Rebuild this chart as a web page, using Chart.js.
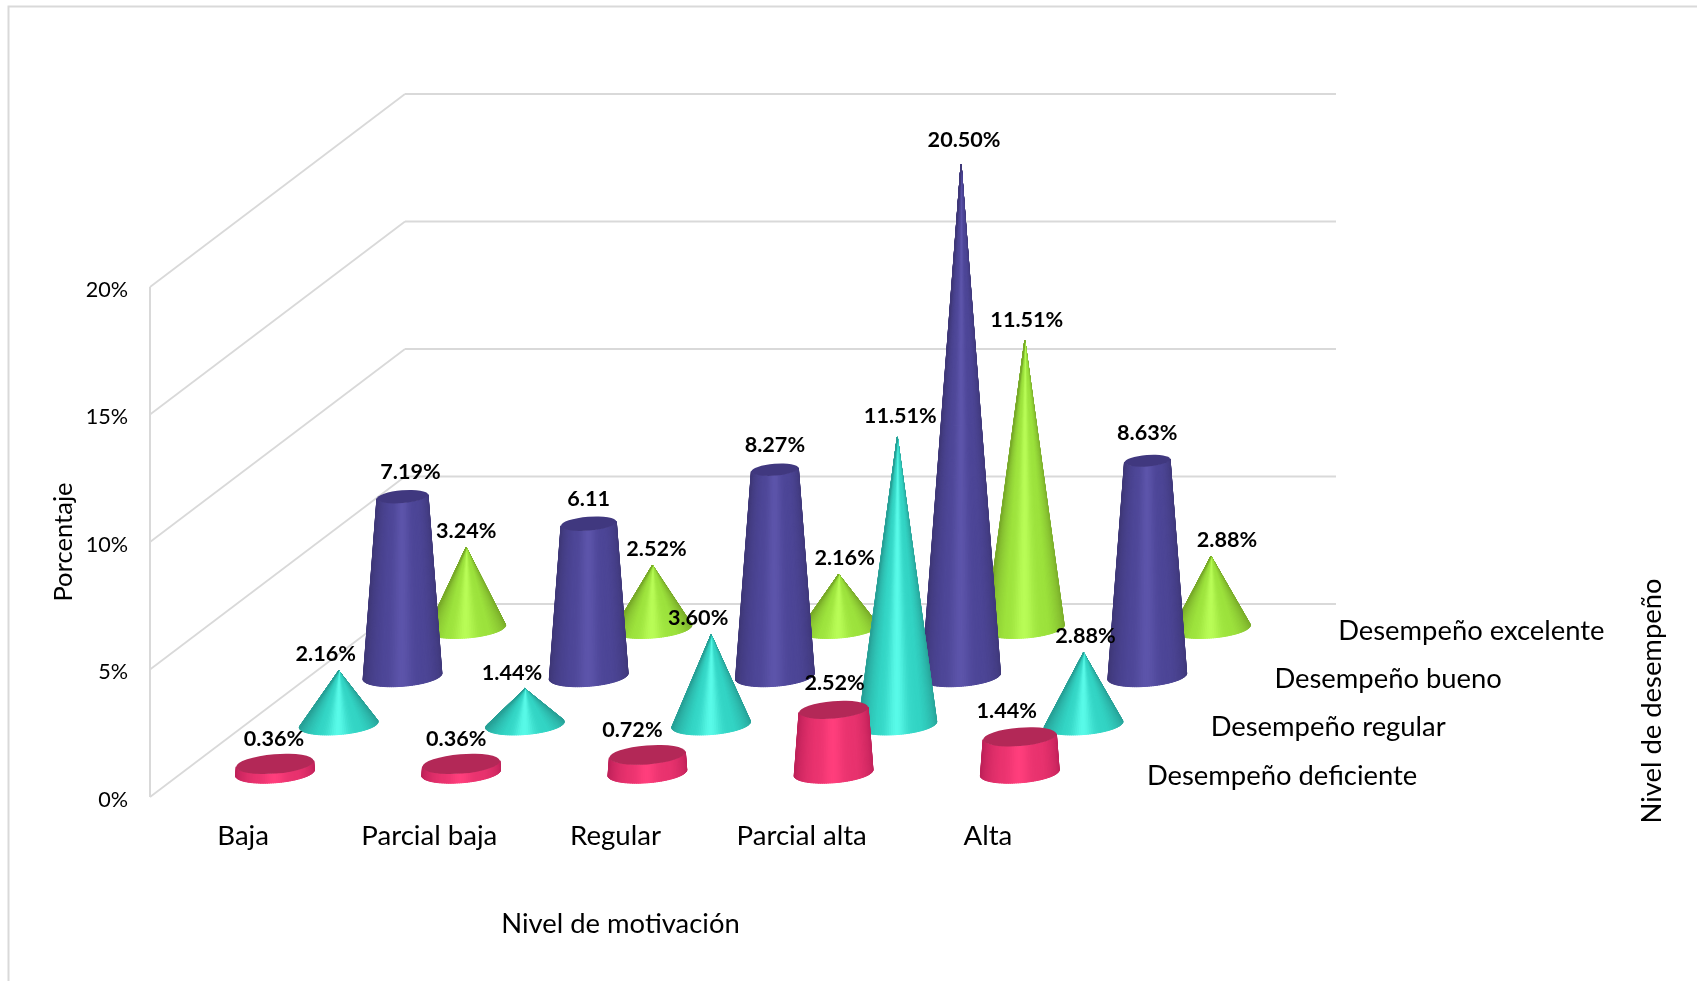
<!DOCTYPE html>
<html lang="es">
<head>
<meta charset="utf-8">
<title>Nivel de motivación y desempeño</title>
<style>
    html, body { margin: 0; padding: 0; background: #ffffff; }
    canvas { display: block; }
</style>
<script src="https://cdn.jsdelivr.net/npm/chart.js@4"></script>
</head>
<body>
<canvas id="grafico" width="1697" height="981"></canvas>
<script>
// Datos del gráfico
const categorias = ['Baja', 'Parcial baja', 'Regular', 'Parcial alta', 'Alta'];
const niveles = ['Desempeño deficiente', 'Desempeño regular', 'Desempeño bueno', 'Desempeño excelente'];
const ticksPorcentaje = [0, 5, 10, 15, 20];

const deficiente = [0.36, 0.36, 0.72, 2.52, 1.44];
const regular = [2.16, 1.44, 3.60, 11.51, 2.88];
const bueno = [7.19, 6.11, 8.27, 20.50, 8.63];
const excelente = [3.24, 2.52, 2.16, 11.51, 2.88];

// La etiqueta de 6.11 va sin signo de porcentaje
const etiquetasBueno = ['7.19%', '6.11', '8.27%', '20.50%', '8.63%'];

// Perspectiva del suelo
const FONDO_X = 255;
const FONDO_Y = 193;
const INCLINACION = -0.08;
const RADIO_BASE = 39.5;
const APLASTADO = 0.25;
const ESCALA_ALTURA = 0.98;
const GRIS = '#d9d9d9';
const FUENTE = 'Lato, "Open Sans", sans-serif';

// Desplaza un punto del plano frontal a la fila que le toca
function desplazamiento(chart, fila) {
    const z = chart.scales.z;
    const f = (z.getPixelForValue(fila) - z.left) / z.width;
    return { dx: FONDO_X * f, dy: -FONDO_Y * f };
}

function puntoElipse(x, y, a, b, t) {
    const c = Math.cos(INCLINACION), s = Math.sin(INCLINACION);
    const px = a * Math.cos(t), py = b * Math.sin(t);
    return { x: x + px * c - py * s, y: y + px * s + py * c };
}

function mezcla(c1, c2, k) {
    return c1.map((v, i) => Math.round(v + (c2[i] - v) * k));
}

// Borde oscuro, cuerpo medio y un brillo suave cerca del centro
function colorFranja(ds, t) {
    const frente = Math.max(0, Math.sin(t));
    const cuerpo = mezcla(ds.colorBorde, ds.colorMedio, Math.min(1, Math.pow(frente, 1.4) * 1.3));
    const u = Math.cos(t) + 0.06;
    const brillo = Math.exp(-(u * u) / 0.07);
    const c = mezcla(cuerpo, ds.colorLuz, brillo);
    return `rgb(${c[0]},${c[1]},${c[2]})`;
}

// Cono (o cono truncado) dibujado por franjas para sombrearlo
function dibujarCono(ctx, x, yBase, yTop, rTop, ds) {
    const alto = yBase - yTop;
    const b = RADIO_BASE * APLASTADO;
    const altoTotal = rTop > 0 ? alto * RADIO_BASE / (RADIO_BASE - rTop) : alto;
    const extra = altoTotal > b ? Math.asin(b / altoTotal) : Math.PI / 2;
    const pasos = 64;
    const ini = -extra, fin = Math.PI + extra;

    ctx.save();
    ctx.lineWidth = 1;
    ctx.lineJoin = 'round';
    for (let i = 0; i < pasos; i++) {
        const t0 = ini + (fin - ini) * i / pasos;
        const t1 = ini + (fin - ini) * (i + 1.3) / pasos;
        const a0 = puntoElipse(x, yBase, RADIO_BASE, b, t0);
        const a1 = puntoElipse(x, yBase, RADIO_BASE, b, t1);
        const b0 = puntoElipse(x, yTop, rTop, rTop * APLASTADO, t0);
        const b1 = puntoElipse(x, yTop, rTop, rTop * APLASTADO, t1);
        const color = colorFranja(ds, (t0 + t1) / 2);
        ctx.fillStyle = color;
        ctx.strokeStyle = color;
        ctx.beginPath();
        ctx.moveTo(a0.x, a0.y);
        ctx.lineTo(a1.x, a1.y);
        ctx.lineTo(b1.x, b1.y);
        ctx.lineTo(b0.x, b0.y);
        ctx.closePath();
        ctx.fill();
        ctx.stroke();
    }
    if (rTop > 0.5) {
        ctx.fillStyle = ds.colorTapa;
        ctx.beginPath();
        ctx.ellipse(x, yTop, rTop, rTop * APLASTADO, INCLINACION, 0, Math.PI * 2);
        ctx.fill();
    }
    ctx.restore();
}

// Controlador de barras que pinta conos
class ConoController extends Chart.BarController {
    static id = 'cono';
    static defaults = {};

    draw() {
        const chart = this.chart;
        const ds = this.getDataset();
        const meta = this.getMeta();
        const { dx, dy } = desplazamiento(chart, this.index);
        const ctx = chart.ctx;
        const maximo = Math.max(...bueno);

        meta.data.forEach((el, i) => {
            const alto = (el.base - el.y) * ESCALA_ALTURA;
            const x = el.x + dx;
            const yBase = el.base + dy;
            const rTop = ds.hastaMaximo ? RADIO_BASE * (1 - ds.data[i] / maximo) : 0;
            dibujarCono(ctx, x, yBase, yBase - alto, rTop, ds);
        });
    }
}
Chart.register(ConoController);

// Paredes, rejilla y marco detrás de los conos
const paredes = {
    id: 'paredes',
    beforeDatasetsDraw(chart) {
        const { ctx, chartArea, scales: { y } } = chart;
        ctx.save();
        ctx.strokeStyle = GRIS;

        ctx.lineWidth = 2;
        ctx.beginPath();
        ctx.moveTo(8.5, chart.height);
        ctx.lineTo(8.5, 6.5);
        ctx.lineTo(chart.width, 6.5);
        ctx.stroke();

        y.ticks.forEach(t => {
            const py = y.getPixelForValue(t.value);
            ctx.lineWidth = 1.8;
            ctx.beginPath();
            ctx.moveTo(chartArea.left, py);
            ctx.lineTo(chartArea.left + FONDO_X, py - FONDO_Y);
            ctx.stroke();
            ctx.lineWidth = 2;
            ctx.beginPath();
            ctx.moveTo(chartArea.left + FONDO_X, py - FONDO_Y);
            ctx.lineTo(chartArea.right + FONDO_X, py - FONDO_Y);
            ctx.stroke();
        });

        ctx.lineWidth = 2;
        ctx.beginPath();
        ctx.moveTo(chartArea.left, y.getPixelForValue(0));
        ctx.lineTo(chartArea.left, y.getPixelForValue(20));
        ctx.stroke();
        ctx.restore();
    }
};

// Etiquetas de valor, marcas del eje Y, nombres de las filas y títulos
const rotulos = {
    id: 'rotulos',
    afterDatasetsDraw(chart) {
        const { ctx, chartArea, scales: { y } } = chart;
        ctx.save();
        ctx.textAlign = 'center';
        ctx.textBaseline = 'middle';
        ctx.fillStyle = '#000000';

        ctx.font = `bold 21.6px ${FUENTE}`;
        chart.data.datasets.forEach((ds, d) => {
            const { dx, dy } = desplazamiento(chart, d);
            chart.getDatasetMeta(d).data.forEach((el, i) => {
                const alto = (el.base - el.y) * ESCALA_ALTURA;
                const texto = ds.etiquetas ? ds.etiquetas[i] : ds.data[i].toFixed(2) + '%';
                ctx.fillText(texto, el.x + dx + ds.ajusteX[i], el.base + dy - alto - ds.separacion[i]);
            });
        });

        ctx.font = `21.6px ${FUENTE}`;
        ctx.textAlign = 'right';
        y.ticks.forEach(t => {
            ctx.fillText(t.label, chartArea.left - 22, y.getPixelForValue(t.value) + 3);
        });

        ctx.font = `27.4px ${FUENTE}`;
        ctx.textAlign = 'center';
        ctx.fillText('Nivel de motivación', (chartArea.left + chartArea.right) / 2 + 5, 924);

        ctx.textAlign = 'left';
        niveles.forEach((nombre, f) => {
            const { dx, dy } = desplazamiento(chart, f);
            ctx.fillText(nombre, chartArea.right + dx + 34, chartArea.bottom + dy + 3);
        });

        ctx.translate(1652, 701);
        ctx.rotate(-Math.PI / 2);
        ctx.textAlign = 'center';
        ctx.fillText('Nivel de desempeño', 0, 0);
        ctx.restore();
    }
};

function serie(nombre, datos, colorBorde, colorMedio, colorLuz, colorTapa, extra) {
    return {
        label: nombre,
        data: datos,
        colorBorde,
        colorMedio,
        colorLuz,
        colorTapa,
        grouped: false,
        clip: false,
        ...extra
    };
}

new Chart(document.getElementById('grafico'), {
    type: 'cono',
    data: {
        labels: categorias,
        datasets: [
            serie(niveles[0], deficiente, [190, 32, 88], [232, 50, 110], [255, 62, 124], '#b32857', {
                hastaMaximo: true,
                ajusteX: [-1, -5, -15, 1, -13],
                separacion: [25, 25, 25, 27, 26]
            }),
            serie(niveles[1], regular, [38, 160, 150], [50, 212, 196], [88, 250, 232], null, {
                ajusteX: [-13, -13, -13, 3, 2],
                separacion: [17, 16, 17, 21, 17]
            }),
            serie(niveles[2], bueno, [62, 55, 120], [76, 69, 150], [92, 84, 170], '#40387f', {
                hastaMaximo: true,
                etiquetas: etiquetasBueno,
                ajusteX: [8, 0, 0, 3, 0],
                separacion: [25, 25, 25, 24, 28]
            }),
            serie(niveles[3], excelente, [120, 170, 40], [156, 226, 60], [184, 252, 86], null, {
                ajusteX: [0, 4, 6, 2, 16],
                separacion: [16, 16, 16, 20, 16]
            })
        ]
    },
    options: {
        responsive: false,
        animation: false,
        layout: { padding: { left: 40, top: 287, right: 616, bottom: 0 } },
        plugins: {
            legend: { display: false },
            title: { display: false },
            tooltip: { enabled: false }
        },
        scales: {
            x: {
                type: 'category',
                offset: true,
                grid: { display: false },
                border: { display: false },
                afterFit: s => { s.height = 184; },
                ticks: {
                    padding: 15,
                    color: '#000000',
                    font: { family: FUENTE, size: 27.6 },
                    maxRotation: 0
                }
            },
            y: {
                type: 'linear',
                min: 0,
                max: 20,
                afterBuildTicks: s => { s.ticks = ticksPorcentaje.map(value => ({ value })); },
                grid: { display: false },
                border: { display: false },
                afterFit: s => { s.width = 110; },
                ticks: {
                    display: false,
                    callback: v => v + '%'
                },
                title: {
                    display: true,
                    text: 'Porcentaje',
                    color: '#000000',
                    font: { family: FUENTE, size: 25.6 },
                    padding: { top: 8, bottom: 0 }
                }
            },
            // Tercer eje: profundidad de las filas
            z: {
                type: 'category',
                axis: 'x',
                position: 'bottom',
                display: false,
                offset: true,
                labels: niveles
            }
        }
    },
    plugins: [paredes, rotulos]
});
</script>
</body>
</html>
